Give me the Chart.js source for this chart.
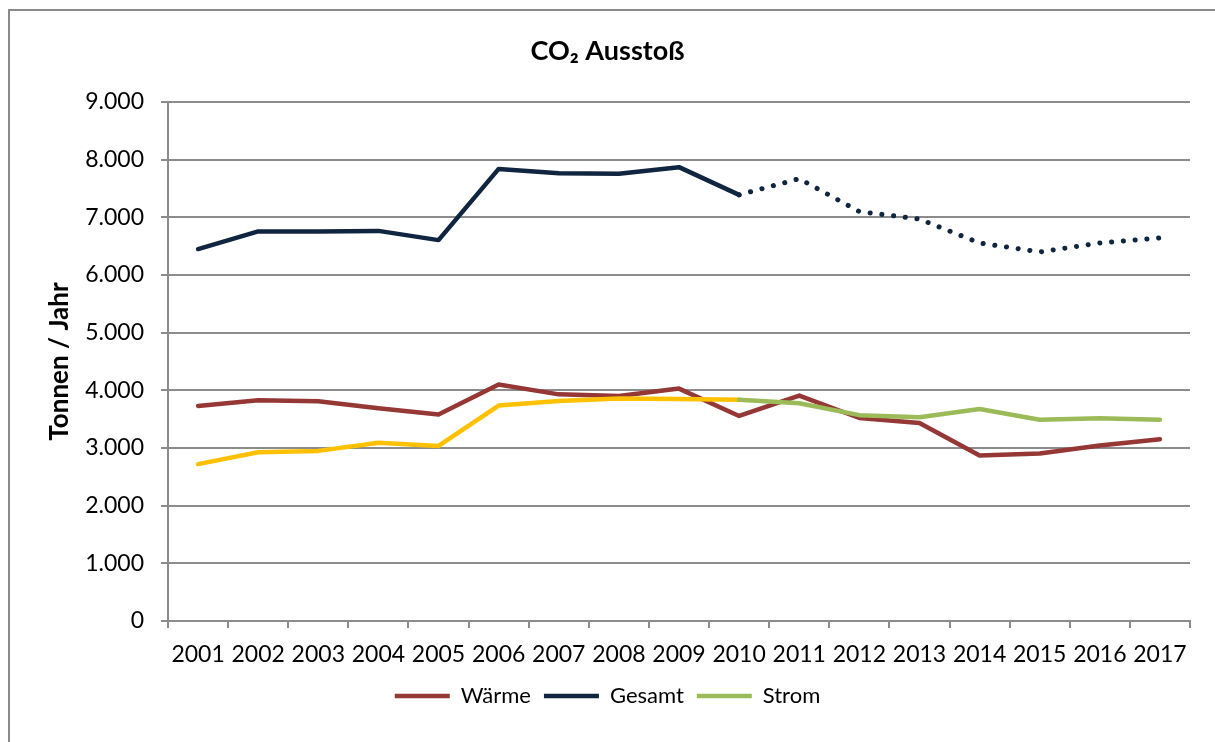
<!DOCTYPE html>
<html>
<head>
<meta charset="utf-8">
<script src="https://cdn.jsdelivr.net/npm/chart.js@4/dist/chart.umd.min.js"></script>
<style>
  html, body { margin: 0; padding: 0; background: #fff; overflow: hidden; }
  #frame { position: absolute; left: 8px; top: 9px; width: 1400px; height: 900px; border: 2px solid #8a8a8a; box-sizing: border-box; }
  #wrap { position: absolute; left: 0; top: 0; width: 1215px; height: 742px; }
</style>
</head>
<body>
<div id="frame"></div>
<div id="wrap"><canvas id="c" width="1215" height="742"></canvas></div>
<script>
// ---- data ----
const years = ['2001','2002','2003','2004','2005','2006','2007','2008','2009','2010','2011','2012','2013','2014','2015','2016','2017'];
const waerme = [3730, 3830, 3810, 3690, 3580, 4100, 3930, 3900, 4030, 3555, 3910, 3520, 3435, 2870, 2905, 3045, 3150];
const gesamt = [6450, 6755, 6755, 6765, 6605, 7840, 7765, 7755, 7870, 7390, 7670, 7100, 6970, 6555, 6400, 6555, 6645];
const strom  = [2720, 2925, 2950, 3090, 3035, 3735, 3815, 3860, 3850, 3838, 3775, 3570, 3535, 3675, 3490, 3515, 3490];
const lastMeasuredIndex = 9; // 2010
const seriesNames = ['Wärme', 'Gesamt', 'Strom'];
const chartTitle = 'CO₂ Ausstoß';
const yAxisTitle = 'Tonnen / Jahr';

const FONT = 'Lato, "Open Sans", sans-serif';
const GRID = '#8c8c8c';

new Chart(document.getElementById('c'), {
  type: 'line',
  data: {
    labels: years,
    datasets: [
      {
        label: seriesNames[0], data: waerme,
        borderColor: '#953735', backgroundColor: '#953735',
        borderWidth: 4.5, pointRadius: 0, borderCapStyle: 'round', borderJoinStyle: 'round',
        order: 2
      },
      {
        label: seriesNames[1], data: gesamt,
        borderColor: '#10253f', backgroundColor: '#10253f',
        borderWidth: 4.5, pointRadius: 0, borderCapStyle: 'round', borderJoinStyle: 'round',
        order: 3,
        segment: {
          borderDash: ctx => ctx.p0DataIndex >= lastMeasuredIndex ? [0.1, 11.7] : undefined,
          borderWidth: ctx => ctx.p0DataIndex >= lastMeasuredIndex ? 5 : 4.5
        }
      },
      {
        label: seriesNames[2], data: strom,
        borderColor: '#9bbb59', backgroundColor: '#9bbb59',
        borderWidth: 4.5, pointRadius: 0, borderCapStyle: 'round', borderJoinStyle: 'round',
        order: 1,
        segment: {
          borderColor: ctx => ctx.p0DataIndex < lastMeasuredIndex ? '#ffc000' : '#9bbb59'
        }
      }
    ]
  },
  options: {
    responsive: false,
    animation: false,
    locale: 'de-DE',
    layout: { padding: { left: 25, right: 25, top: 0, bottom: 25 } },
    plugins: {
      tooltip: { enabled: false },
      title: {
        display: true, text: chartTitle, color: '#000',
        font: { family: FONT, size: 27, weight: 'bold' },
        padding: { top: 35, bottom: 34.6 }
      },
      legend: {
        position: 'bottom',
        labels: {
          usePointStyle: true, pointStyle: 'line', pointStyleWidth: 55,
          boxWidth: 55, boxHeight: 5,
          color: '#000', padding: 13,
          font: { family: FONT, size: 22 },
          sort: (a, b) => a.datasetIndex - b.datasetIndex
        }
      }
    },
    scales: {
      x: {
        offset: true,
        grid: { display: true, drawOnChartArea: false, drawTicks: true, tickLength: 7, offset: true, color: GRID, lineWidth: 2 },
        border: { display: true, color: GRID, width: 2 },
        ticks: { color: '#000', font: { family: FONT, size: 23 }, padding: 13, maxRotation: 0, autoSkip: false },
        afterFit: s => { s.height = 51; }
      },
      y: {
        min: 0, max: 9000,
        grid: { color: GRID, lineWidth: 2, tickLength: 7 },
        border: { display: true, color: GRID, width: 2 },
        ticks: { stepSize: 1000, color: '#000', font: { family: FONT, size: 23 }, padding: 17 },
        title: { display: true, text: yAxisTitle, color: '#000', font: { family: FONT, size: 26, weight: 'bold' }, padding: { top: 19, bottom: 0 } },
        afterFit: s => { s.width = 143; }
      }
    }
  }
});
</script>
</body>
</html>
